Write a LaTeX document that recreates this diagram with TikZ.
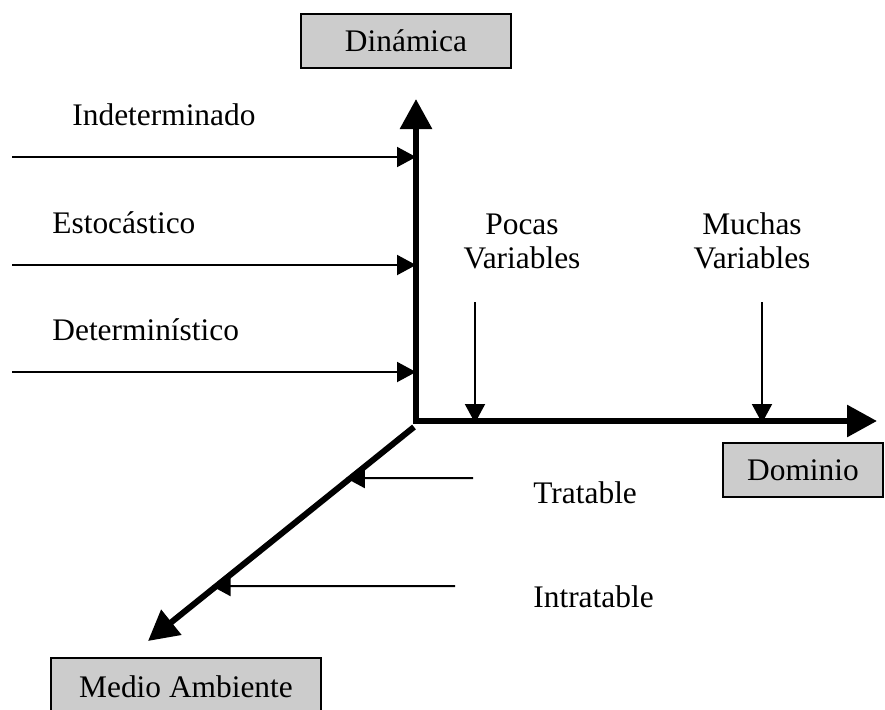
\documentclass[tikz,border=0pt]{standalone}
\usepackage{fontspec}
\setmainfont{Liberation Serif}
\usetikzlibrary{arrows.meta}

\begin{document}
\begin{tikzpicture}[x=0.5pt,y=-0.5pt,
  font=\fontsize{15.7}{17}\selectfont,
  eje/.style={line width=3pt,-{Triangle[length=15pt,width=15.5pt]}},
  flecha/.style={line width=1pt,-{Triangle[length=9.5pt,width=10pt]}},
  caja/.style={draw,line width=1pt,fill=gray!40,minimum height=27pt,inner sep=0pt},
  rotulo/.style={inner sep=0pt,align=center}]
\clip (0,0) rectangle (885,709);

% Axes
\coordinate (O) at (416,421);
\coordinate (arriba) at (416,99);
\coordinate (derecha) at (877,421);
\coordinate (diag) at (414,427);
\coordinate (abajo) at (148,641);
\draw[eje,line join=miter,{Triangle[length=15pt,width=15.5pt]}-{Triangle[length=15pt,width=15.5pt]}]
  (arriba) -- (O) -- (derecha);
\draw[eje] (diag) -- (abajo);

% Boxes
\node[caja,minimum width=105pt] (din) at (406,41) {Dinámica};
\node[caja,minimum width=80pt] (dom) at (803,470) {Dominio};
\node[caja,minimum width=135pt,minimum height=29pt] (med) at (186,687) {Medio Ambiente};

% Dinamica levels
\node[rotulo,anchor=west] (ind) at (72,115) {Indeterminado};
\node[rotulo,anchor=west] (est) at (52,223) {Estocástico};
\node[rotulo,anchor=west] (det) at (52,330) {Determinístico};
\coordinate (i0) at (12,157);
\coordinate (e0) at (12,265);
\coordinate (d0) at (12,372);
\draw[flecha] (i0) -- (i0 -| O);
\draw[flecha] (e0) -- (e0 -| O);
\draw[flecha] (d0) -- (d0 -| O);

% Dominio levels
\node[rotulo] (pocas) at (522,241) {Pocas\\Variables};
\node[rotulo] (muchas) at (752,241) {Muchas\\Variables};
\coordinate (p0) at (475,302);
\coordinate (m0) at (762,302);
\draw[flecha] (p0) -- (475,423);
\draw[flecha] (m0) -- (762,423);

% Medio ambiente levels
\node[rotulo,anchor=west] (trat) at (533,493) {Tratable};
\node[rotulo,anchor=west] (intr) at (533,597) {Intratable};
\coordinate (t0) at (473,478);
\coordinate (t0b) at (0,478);
\coordinate (n0) at (455,586);
\coordinate (n0b) at (0,586);
\coordinate (t1) at (intersection of diag--abajo and t0--t0b);
\coordinate (n1) at (intersection of diag--abajo and n0--n0b);
\draw[flecha,shorten >=-2.4pt] (t0) -- (t1);
\draw[flecha,shorten >=-2.4pt] (n0) -- (n1);
\end{tikzpicture}
\end{document}
